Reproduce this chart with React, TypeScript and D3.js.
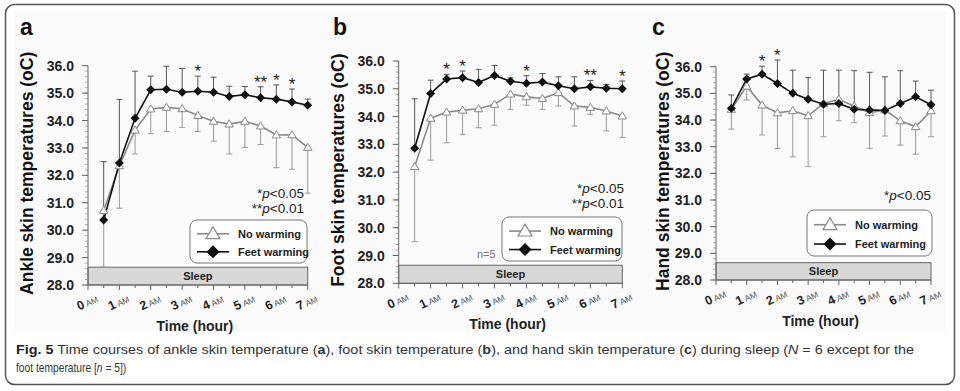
import React from "react";
import * as d3 from "d3";

// ---------- data ----------
const HOURS = [0.5, 1, 1.5, 2, 2.5, 3, 3.5, 4, 4.5, 5, 5.5, 6, 6.5, 7];
const X_TICKS = [0, 1, 2, 3, 4, 5, 6, 7];
const Y_TICKS = [28, 29, 30, 31, 32, 33, 34, 35, 36];
const SERIES_NAMES = ["No warming", "Feet warming"];

// (a) ankle
const ankleNo = [30.72, 32.35, 33.65, 34.42, 34.48, 34.43, 34.18, 33.97, 33.87, 33.97, 33.8, 33.47, 33.48, 33.02];
const ankleNoLow = [28.65, 30.8, 32.78, 33.52, 33.6, 33.75, 33.6, 33.25, 32.78, 33.02, 33.12, 32.28, 32.22, 31.35];
const ankleFeet = [30.37, 32.45, 34.08, 35.12, 35.14, 35.03, 35.07, 35.03, 34.88, 34.94, 34.83, 34.78, 34.68, 34.56];
const ankleFeetHigh = [32.5, 34.77, 35.8, 35.62, 35.98, 35.9, 35.62, 35.58, 35.25, 35.24, 35.23, 35.3, 35.15, 34.78];
const ankleStars: [number, string][] = [[3.5, "*"], [5.5, "**"], [6, "*"], [6.5, "*"]];

// (b) foot
const footNo = [32.2, 33.94, 34.16, 34.23, 34.28, 34.44, 34.81, 34.71, 34.65, 34.86, 34.38, 34.33, 34.2, 34.02];
const footNoLow = [29.5, 32.43, 33.06, 33.36, 33.6, 33.69, 34.26, 34.41, 34.26, 34.38, 33.66, 34.08, 33.48, 33.25];
const footFeet = [32.86, 34.83, 35.35, 35.4, 35.23, 35.48, 35.27, 35.2, 35.24, 35.11, 35.0, 35.07, 35.02, 35.0];
const footFeetHigh = [34.64, 35.31, 35.52, 35.64, 35.7, 35.84, 35.39, 35.47, 35.55, 35.43, 35.43, 35.3, 35.16, 35.28];
const footStars: [number, string][] = [[1.5, "*"], [2, "*"], [4, "*"], [6, "**"], [7, "*"]];

// (c) hand
const handNo = [34.4, 35.27, 34.56, 34.27, 34.35, 34.16, 34.62, 34.78, 34.52, 34.28, 34.38, 33.97, 33.75, 34.35];
const handNoLow = [33.66, 34.75, 33.44, 32.94, 32.62, 32.25, 33.37, 33.97, 33.9, 32.94, 33.4, 33.06, 32.72, 33.37];
const handFeet = [34.44, 35.54, 35.72, 35.37, 35.0, 34.78, 34.59, 34.62, 34.4, 34.38, 34.36, 34.62, 34.87, 34.57];
const handFeetHigh = [34.94, 35.72, 36.02, 36.25, 35.87, 35.59, 35.87, 35.87, 35.85, 35.79, 35.62, 35.85, 35.46, 35.12];
const handStars: [number, string][] = [[1.5, "*"], [2, "*"]];

// ---------- layout ----------
const W = 960;
const H = 391;
const FONT = "'Liberation Sans', Arial, sans-serif";
const GRAY = "#8a8a8a";
const BLACK = "#111";

type Panel = {
  label: string;
  title: string;
  x0: number; x1: number; yTop: number; yBot: number;
  labelX: number; titleX: number;
  no: number[]; noLow: number[]; feet: number[]; feetHigh: number[];
  stars: [number, string][];
  pTexts: { star: string; rest: string; x: number; y: number }[];
  legend: { x: number; y: number; w: number; h: number };
  note?: { text: string; x: number; y: number };
};

const PANELS: Panel[] = [
  {
    label: "a", title: "Ankle skin temperatures (oC)",
    x0: 88, x1: 307.7, yTop: 65.7, yBot: 285, labelX: 20, titleX: 33,
    no: ankleNo, noLow: ankleNoLow, feet: ankleFeet, feetHigh: ankleFeetHigh, stars: ankleStars,
    pTexts: [{ star: "*", rest: "<0.05", x: 304, y: 198 }, { star: "**", rest: "<0.01", x: 304, y: 213 }],
    legend: { x: 190, y: 220, w: 117, h: 43 },
  },
  {
    label: "b", title: "Foot skin temperatures (oC)",
    x0: 398.7, x1: 622.3, yTop: 61, yBot: 283.3, labelX: 333, titleX: 344,
    no: footNo, noLow: footNoLow, feet: footFeet, feetHigh: footFeetHigh, stars: footStars,
    pTexts: [{ star: "*", rest: "<0.05", x: 624, y: 193 }, { star: "**", rest: "<0.01", x: 624, y: 208 }],
    legend: { x: 502, y: 217, w: 120, h: 44 },
    note: { text: "n=5", x: 477, y: 258 },
  },
  {
    label: "c", title: "Hand skin temperatures (oC)",
    x0: 716, x1: 931, yTop: 66.7, yBot: 280, labelX: 652, titleX: 669,
    no: handNo, noLow: handNoLow, feet: handFeet, feetHigh: handFeetHigh, stars: handStars,
    pTexts: [{ star: "*", rest: "<0.05", x: 931, y: 200 }],
    legend: { x: 807, y: 210, w: 125, h: 46 },
  },
];

const diamond = (r: number) => `M0,${-r}L${r},0L0,${r}L${-r},0Z`;
const triangle = (r: number) => `M0,${-r}L${r},${r * 0.7}L${-r},${r * 0.7}Z`;

function PanelChart({ p }: { p: Panel }) {
  const x = d3.scaleLinear().domain([0, 7]).range([p.x0, p.x1]);
  const y = d3.scaleLinear().domain([28, 36]).range([p.yBot, p.yTop]);
  const line = d3.line<number>().x((_, i) => x(HOURS[i])).y((v) => y(v));
  const minorY = d3.range(28, 36.001, 0.2);
  const minorX = d3.range(0, 7.001, 0.5);
  const cap = 3;
  const cx = (p.x0 + p.x1) / 2;
  const midY = (p.yTop + p.yBot) / 2 - 2;
  const lg = p.legend;
  return (
    <g fontFamily={FONT}>
      {/* panel label */}
      <text x={p.labelX} y={35} fontSize={23} fontWeight="bold" fill="#111">{p.label}</text>
      {/* y title */}
      <text transform={`translate(${p.titleX},${midY}) rotate(-90)`} textAnchor="middle"
        fontSize={17.5} fontWeight="bold" fill="#111">{p.title}</text>

      {/* sleep bar */}
      <rect x={x(0)} y={y(28.65)} width={x(7) - x(0)} height={y(28) - y(28.65)} fill="#d8d8d8" stroke="#666" strokeWidth={1} />
      <text x={x(3.5)} y={(y(28.65) + y(28)) / 2 + 4} textAnchor="middle" fontSize={11} fontWeight="bold" fill="#222">Sleep</text>

      {/* y axis */}
      <line x1={p.x0} x2={p.x0} y1={y(28)} y2={y(36)} stroke="#666" strokeWidth={1} />
      {minorY.map((v, i) => (
        <line key={"my" + i} x1={p.x0 - 3} x2={p.x0} y1={y(v)} y2={y(v)} stroke="#888" strokeWidth={0.7} />
      ))}
      {Y_TICKS.map((v) => (
        <g key={"yt" + v}>
          <line x1={p.x0 - 6} x2={p.x0} y1={y(v)} y2={y(v)} stroke="#666" strokeWidth={1} />
          <text x={p.x0 - 14} y={y(v) + 5} textAnchor="end" fontSize={14} fontWeight="bold" fill="#222">{v.toFixed(1)}</text>
        </g>
      ))}

      {/* x axis */}
      <line x1={x(0)} x2={x(7)} y1={p.yBot} y2={p.yBot} stroke="#666" strokeWidth={1} />
      {minorX.map((v, i) => (
        <line key={"mx" + i} x1={x(v)} x2={x(v)} y1={p.yBot} y2={p.yBot + (v % 1 === 0 ? 5 : 3)} stroke="#666" strokeWidth={1} />
      ))}
      {X_TICKS.map((v) => (
        <text key={"xt" + v} transform={`translate(${x(v) + 1},${p.yBot + 21}) rotate(-25)`} textAnchor="middle" fill="#222">
          <tspan fontSize={12.5} fontWeight="bold">{v}</tspan>
          <tspan fontSize={8.5} dx={2} fill="#555">AM</tspan>
        </text>
      ))}
      <text x={cx - 3} y={p.yBot + 46} textAnchor="middle" fontSize={14} fontWeight="bold" fill="#222">Time (hour)</text>

      {/* error bars */}
      {HOURS.map((h, i) => (
        <g key={"en" + i} stroke="#9a9a9a" strokeWidth={1}>
          <line x1={x(h)} x2={x(h)} y1={y(p.no[i])} y2={y(p.noLow[i])} />
          <line x1={x(h) - cap} x2={x(h) + cap} y1={y(p.noLow[i])} y2={y(p.noLow[i])} />
        </g>
      ))}
      {HOURS.map((h, i) => (
        <g key={"ef" + i} stroke="#444" strokeWidth={0.9}>
          <line x1={x(h)} x2={x(h)} y1={y(p.feet[i])} y2={y(p.feetHigh[i])} />
          <line x1={x(h) - cap} x2={x(h) + cap} y1={y(p.feetHigh[i])} y2={y(p.feetHigh[i])} />
        </g>
      ))}

      {/* lines */}
      <path d={line(p.no) || ""} fill="none" stroke={GRAY} strokeWidth={1.6} />
      <path d={line(p.feet) || ""} fill="none" stroke={BLACK} strokeWidth={1.6} />
      {HOURS.map((h, i) => (
        <path key={"mn" + i} transform={`translate(${x(h)},${y(p.no[i])})`} d={triangle(4.2)} fill="#fff" stroke={GRAY} strokeWidth={1} />
      ))}
      {HOURS.map((h, i) => (
        <path key={"mf" + i} transform={`translate(${x(h)},${y(p.feet[i])})`} d={diamond(4.5)} fill={BLACK} />
      ))}

      {/* significance stars */}
      {p.stars.map(([h, s], i) => {
        const idx = HOURS.indexOf(h);
        return (
          <text key={"st" + i} x={x(h)} y={y(p.feetHigh[idx]) + 1} textAnchor="middle" fontSize={17} fill="#222">{s}</text>
        );
      })}

      {/* p-value notes */}
      {p.pTexts.map((t, i) => (
        <text key={"pt" + i} x={t.x} y={t.y} textAnchor="end" fontSize={13.5} fill="#222">
          {t.star}<tspan fontStyle="italic">p</tspan>{t.rest}
        </text>
      ))}
      {p.note && (
        <text x={p.note.x} y={p.note.y} fontSize={11} fill="#777">{p.note.text}</text>
      )}

      {/* legend */}
      <rect x={lg.x} y={lg.y} width={lg.w} height={lg.h} rx={7} fill="#fff" stroke="#777" strokeWidth={1} />
      {SERIES_NAMES.map((name, i) => {
        const ry = lg.y + lg.h * (i === 0 ? 0.32 : 0.74);
        const lx0 = lg.x + 7;
        const lx1 = lx0 + 32;
        return (
          <g key={"lg" + i}>
            <line x1={lx0} x2={lx1} y1={ry} y2={ry} stroke={i === 0 ? GRAY : BLACK} strokeWidth={1.6} />
            {i === 0 ? (
              <path transform={`translate(${(lx0 + lx1) / 2},${ry})`} d={triangle(7)} fill="#fff" stroke={GRAY} strokeWidth={1.2} />
            ) : (
              <path transform={`translate(${(lx0 + lx1) / 2},${ry})`} d={diamond(6.5)} fill={BLACK} />
            )}
            <text x={lx1 + 9} y={ry + 4} fontSize={11} fontWeight="bold" fill="#222">{name}</text>
          </g>
        );
      })}
    </g>
  );
}

export default function App() {
  return (
    <svg width={W} height={H} viewBox={`0 0 ${W} ${H}`}
      style={{ position: "absolute", left: 0, top: 0, display: "block", background: "#fff" }}>
      <rect x={14} y={10} width={932} height={322} fill="#fbfbfb" />
      <rect x={5.5} y={4.5} width={949} height={380} rx={9} fill="none" stroke="#555" strokeWidth={1.5} />
      {PANELS.map((p) => <PanelChart key={p.label} p={p} />)}
      <text x={16} y={354} fontFamily={FONT} fontSize={12.5} fill="#333" textLength={898} lengthAdjust="spacingAndGlyphs">
        <tspan fontWeight="bold" fill="#222">Fig. 5</tspan>
        {" Time courses of ankle skin temperature ("}<tspan fontWeight="bold">a</tspan>
        {"), foot skin temperature ("}<tspan fontWeight="bold">b</tspan>
        {"), and hand skin temperature ("}<tspan fontWeight="bold">c</tspan>
        {") during sleep ("}<tspan fontStyle="italic">N</tspan>
        {" = 6 except for the"}
      </text>
      <text transform="translate(16,372) scale(0.82,1)" fontFamily={FONT} fontSize={12.5} fill="#333">
        {"foot temperature ["}<tspan fontStyle="italic">n</tspan>{" = 5])"}
      </text>
    </svg>
  );
}
